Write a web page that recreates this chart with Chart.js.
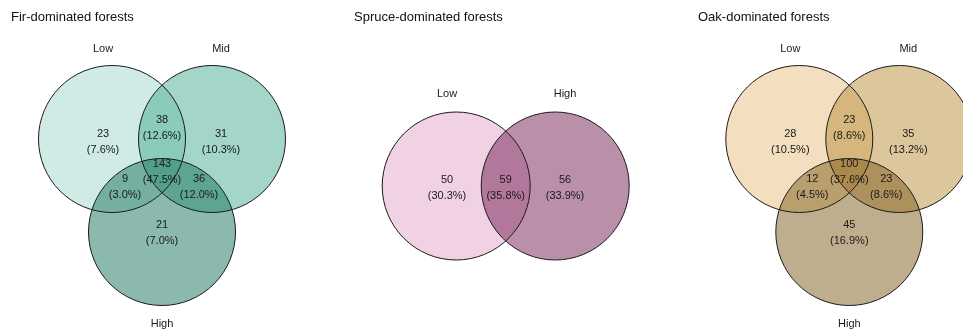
<!DOCTYPE html>
<html>
<head>
<meta charset="utf-8">
<script src="https://cdn.jsdelivr.net/npm/chart.js@4/dist/chart.umd.min.js"></script>
<style>
  html, body { margin: 0; padding: 0; background: #ffffff; }
  #wrap { position: relative; width: 963px; height: 331px; overflow: hidden; }
  .panel { position: absolute; top: 0; width: 321px; height: 331px; }
</style>
</head>
<body>
<div id="wrap">
  <div class="panel" style="left:0px"><canvas id="fir"></canvas></div>
  <div class="panel" style="left:321px"><canvas id="spruce"></canvas></div>
  <div class="panel" style="left:642px"><canvas id="oak"></canvas></div>
</div>
<script>
// ---------------- DATA ----------------
const panelTitles = ["Fir-dominated forests", "Spruce-dominated forests", "Oak-dominated forests"];
const setNames3 = ["Low", "Mid", "High"];
const setNames2 = ["Low", "High"];
// region order (3 sets): Low only, Low∩Mid, Mid only, Low∩Mid∩High, Low∩High, Mid∩High, High only
const regions3 = ["Low only", "Low & Mid", "Mid only", "Low & Mid & High", "Low & High", "Mid & High", "High only"];
// region order (2 sets): Low only, Low∩High, High only
const regions2 = ["Low only", "Low & High", "High only"];
const firCounts = [23, 38, 31, 143, 9, 36, 21];
const spruceCounts = [50, 59, 56];
const oakCounts = [28, 23, 35, 100, 12, 23, 45];

// ---------------- LAYOUT (Venn geometry, in Venn units) ----------------
const CIRCLES3 = [{x: -0.5, y: 0}, {x: 0.5, y: 0}, {x: 0, y: -0.93}];
const R3 = 0.735;
const SETLABEL3 = [{x: -0.59, y: 0.90}, {x: 0.59, y: 0.90}, {x: 0, y: -1.85}];
const REGION3 = [{x: -0.59, y: -0.025}, {x: 0, y: 0.113}, {x: 0.59, y: -0.025}, {x: 0, y: -0.333},
                 {x: -0.37, y: -0.478}, {x: 0.37, y: -0.478}, {x: 0, y: -0.94}];
const CIRCLES2 = [{x: -0.495, y: 0}, {x: 0.495, y: 0}];
const R2 = 0.74;
const SETLABEL2 = [{x: -0.587, y: 0.92}, {x: 0.593, y: 0.92}];
const REGION2 = [{x: -0.587, y: -0.015}, {x: 0, y: -0.015}, {x: 0.593, y: -0.015}];

const FONT = "'Liberation Sans', Arial, Helvetica, sans-serif";

function pct(v, total) { return "(" + (v / total * 100).toFixed(1) + "%)"; }

const vennText = {
  id: 'vennText',
  afterDatasetsDraw(chart, args, opts) {
    const ctx = chart.ctx;
    const xs = chart.scales.x, ys = chart.scales.y;
    ctx.save();
    ctx.fillStyle = '#1a1a1a';
    ctx.textAlign = 'center';
    ctx.textBaseline = 'middle';
    ctx.font = '11px ' + FONT;
    // region counts (positions come from the label dataset elements)
    const meta = chart.getDatasetMeta(2);
    const counts = chart.data.datasets[2].counts;
    const total = counts.reduce((a, b) => a + b, 0);
    meta.data.forEach((el, i) => {
      ctx.fillText(String(counts[i]), el.x, el.y - 8);
      ctx.fillText(pct(counts[i], total), el.x, el.y + 8);
    });
    // set names
    opts.setNames.forEach((name, i) => {
      const p = opts.setLabelPos[i];
      ctx.fillText(name, xs.getPixelForValue(p.x), ys.getPixelForValue(p.y));
    });
    // title
    ctx.textAlign = 'left';
    ctx.textBaseline = 'alphabetic';
    ctx.font = '13px ' + FONT;
    ctx.fillStyle = '#111';
    ctx.fillText(opts.title, opts.titleX, 21);
    ctx.restore();
  }
};

function makeVenn(id, cfg) {
  const radiusPx = (ctx) => {
    const s = ctx.chart.scales.x;
    return Math.abs(s.getPixelForValue(cfg.r) - s.getPixelForValue(0));
  };
  new Chart(document.getElementById(id), {
    type: 'scatter',
    data: {
      datasets: [
        { // fills
          data: cfg.circles,
          pointRadius: radiusPx,
          backgroundColor: cfg.colors,
          borderWidth: 0,
          order: 3
        },
        { // outlines
          data: cfg.circles,
          pointRadius: radiusPx,
          backgroundColor: 'rgba(0,0,0,0)',
          borderColor: '#1a1a1a',
          borderWidth: 1,
          order: 2
        },
        { // region count anchors
          data: cfg.regionPos,
          counts: cfg.counts,
          labels: cfg.regionNames,
          pointRadius: 0,
          order: 1
        }
      ]
    },
    options: {
      responsive: true,
      maintainAspectRatio: false,
      animation: false,
      events: [],
      layout: { padding: 0 },
      scales: {
        x: { type: 'linear', display: false, min: cfg.xmin, max: cfg.xmax },
        y: { type: 'linear', display: false, min: cfg.ymin, max: cfg.ymax }
      },
      plugins: {
        legend: { display: false },
        tooltip: { enabled: false },
        vennText: { setNames: cfg.setNames, setLabelPos: cfg.setLabelPos, title: cfg.title, titleX: cfg.titleX }
      }
    },
    plugins: [vennText]
  });
}

makeVenn('fir', {
  title: panelTitles[0], titleX: 11,
  circles: CIRCLES3, r: R3, setNames: setNames3, setLabelPos: SETLABEL3,
  regionPos: REGION3, regionNames: regions3, counts: firCounts,
  colors: ['rgba(161,215,205,0.5)', 'rgba(71,171,147,0.5)', 'rgba(25,115,93,0.5)'],
  xmin: -1.62, xmax: 1.59, ymin: -1.92, ymax: 1.39
});
makeVenn('spruce', {
  title: panelTitles[1], titleX: 33,
  circles: CIRCLES2, r: R2, setNames: setNames2, setLabelPos: SETLABEL2,
  regionPos: REGION2, regionNames: regions2, counts: spruceCounts,
  colors: ['rgba(227,165,201,0.5)', 'rgba(115,31,85,0.5)'],
  xmin: -1.847, xmax: 1.363, ymin: -1.45, ymax: 1.86
});
makeVenn('oak', {
  title: panelTitles[2], titleX: 56,
  circles: CIRCLES3, r: R3, setNames: setNames3, setLabelPos: SETLABEL3,
  regionPos: REGION3, regionNames: regions3, counts: oakCounts,
  colors: ['rgba(231,191,127,0.5)', 'rgba(185,141,57,0.5)', 'rgba(127,93,29,0.5)'],
  xmin: -2.073, xmax: 1.137, ymin: -1.92, ymax: 1.39
});
</script>
</body>
</html>
